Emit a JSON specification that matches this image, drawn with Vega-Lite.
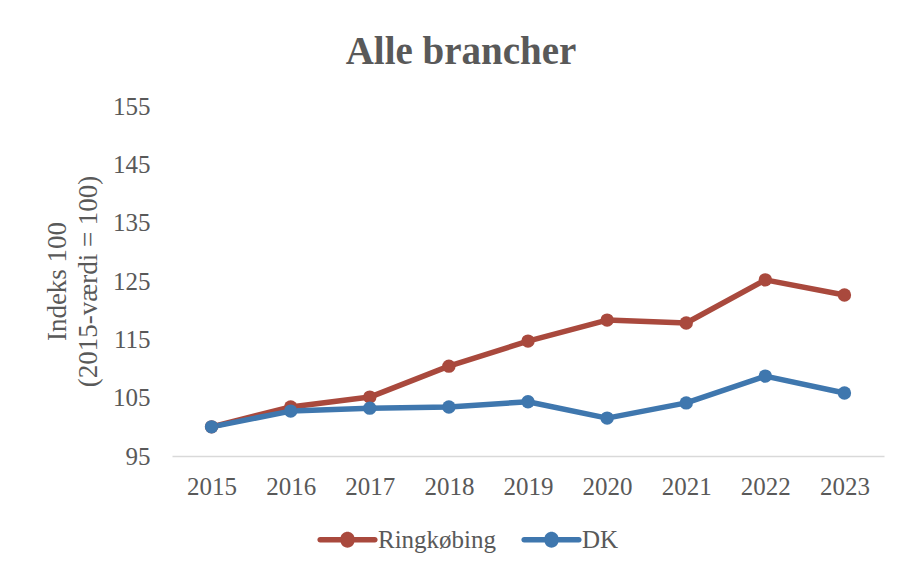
{
  "$schema": "https://vega.github.io/schema/vega-lite/v6.json",
  "width": 712,
  "height": 350,
  "autosize": {"type": "none"},
  "padding": {"left": 172, "top": 106, "right": 22, "bottom": 115},
  "background": "white",
  "title": {
    "text": "Alle brancher",
    "font": "Liberation Serif",
    "fontSize": 39,
    "fontWeight": "bold",
    "color": "#595959",
    "anchor": "middle",
    "dx": -67,
    "offset": 22
  },
  "config": {
    "view": {"stroke": null},
    "font": "Liberation Serif"
  },
  "data": {
    "values": [
      {"year": "2015", "series": "Ringkøbing", "value": 100},
      {"year": "2016", "series": "Ringkøbing", "value": 103.4},
      {"year": "2017", "series": "Ringkøbing", "value": 105.1},
      {"year": "2018", "series": "Ringkøbing", "value": 110.4},
      {"year": "2019", "series": "Ringkøbing", "value": 114.7},
      {"year": "2020", "series": "Ringkøbing", "value": 118.3},
      {"year": "2021", "series": "Ringkøbing", "value": 117.8},
      {"year": "2022", "series": "Ringkøbing", "value": 125.2},
      {"year": "2023", "series": "Ringkøbing", "value": 122.6},
      {"year": "2015", "series": "DK", "value": 100},
      {"year": "2016", "series": "DK", "value": 102.7},
      {"year": "2017", "series": "DK", "value": 103.2},
      {"year": "2018", "series": "DK", "value": 103.4},
      {"year": "2019", "series": "DK", "value": 104.3},
      {"year": "2020", "series": "DK", "value": 101.5},
      {"year": "2021", "series": "DK", "value": 104.1},
      {"year": "2022", "series": "DK", "value": 108.7},
      {"year": "2023", "series": "DK", "value": 105.8}
    ]
  },
  "encoding": {
    "x": {
      "field": "year",
      "type": "ordinal",
      "scale": {"type": "point", "padding": 0.5},
      "axis": {
        "title": null,
        "labelAngle": 0,
        "labelFont": "Liberation Serif",
        "labelFontSize": 25,
        "labelColor": "#595959",
        "labelPadding": 18,
        "ticks": false,
        "domainColor": "#d9d9d9",
        "domainWidth": 1.5,
        "grid": false
      }
    },
    "y": {
      "field": "value",
      "type": "quantitative",
      "scale": {"domain": [95, 155], "nice": false, "zero": false},
      "axis": {
        "values": [95, 105, 115, 125, 135, 145, 155],
        "title": ["Indeks 100", "(2015-værdi = 100)"],
        "titleFont": "Liberation Serif",
        "titleFontSize": 27,
        "titleFontWeight": "normal",
        "titleLineHeight": 31,
        "titleColor": "#595959",
        "titlePadding": 10,
        "labelFont": "Liberation Serif",
        "labelFontSize": 25,
        "labelColor": "#595959",
        "labelPadding": 22,
        "ticks": false,
        "domain": false,
        "grid": false
      }
    },
    "color": {
      "field": "series",
      "type": "nominal",
      "sort": ["Ringkøbing", "DK"],
      "scale": {"domain": ["Ringkøbing", "DK"], "range": ["#A9493D", "#3F77AE"]},
      "legend": {
        "title": null,
        "orient": "none",
        "legendX": 148,
        "legendY": 406,
        "direction": "horizontal",
        "symbolType": "M -1 -0.1 L -0.25 -0.1 A 0.26 0.26 0 0 1 0.25 -0.1 L 1 -0.1 A 0.1 0.1 0 0 1 1 0.1 L 0.25 0.1 A 0.26 0.26 0 0 1 -0.25 0.1 L -1 0.1 A 0.1 0.1 0 0 1 -1 -0.1 Z",
        "symbolSize": 3000,
        "symbolStrokeWidth": 0,
        "symbolOpacity": 1,
        "labelFont": "Liberation Serif",
        "labelFontSize": 25,
        "labelColor": "#595959",
        "labelOffset": 3,
        "columnPadding": 24
      }
    }
  },
  "layer": [
    {
      "mark": {"type": "line", "strokeWidth": 5.5, "strokeCap": "round", "strokeJoin": "round"}
    },
    {
      "mark": {"type": "point", "filled": true, "opacity": 1, "size": 180, "shape": "circle"}
    }
  ]
}
